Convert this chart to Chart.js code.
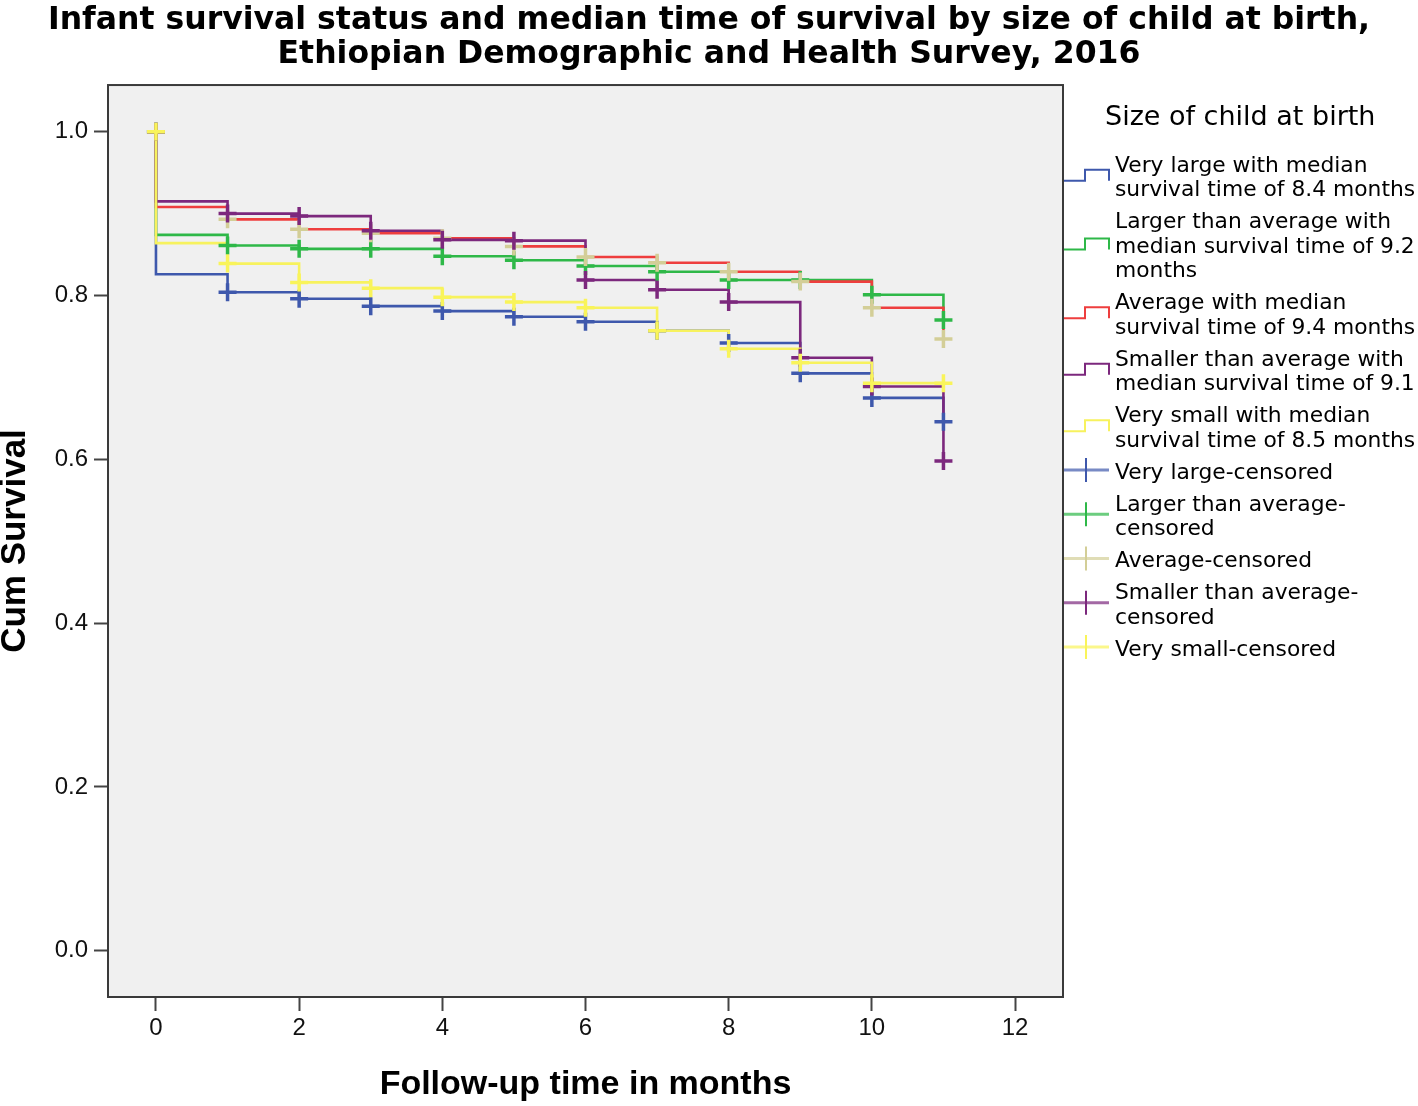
<!DOCTYPE html>
<html><head><meta charset="utf-8">
<script src="https://cdn.jsdelivr.net/npm/chart.js@4.4.1/dist/chart.umd.min.js"></script>
<style>html,body{margin:0;padding:0;background:#fff;}#wrap{width:1418px;height:1106px;position:relative;}</style>
</head><body><div id="wrap"><canvas id="c"></canvas></div>
<script>
// ---- data ----
const months = [0,1,2,3,4,5,6,7,8,9,10,11];
const startSurvival = 1.0;
const veryLarge          = [0.826,0.804,0.796,0.787,0.781,0.774,0.768,0.757,0.742,0.705,0.675,0.646];
const largerThanAverage  = [0.874,0.861,0.857,0.857,0.848,0.843,0.836,0.829,0.819,0.819,0.801,0.770];
const average            = [0.908,0.893,0.881,0.876,0.870,0.860,0.847,0.840,0.829,0.817,0.785,0.747];
const smallerThanAverage = [0.915,0.900,0.897,0.879,0.868,0.867,0.819,0.807,0.792,0.724,0.689,0.598];
const verySmall          = [0.864,0.839,0.816,0.809,0.798,0.792,0.785,0.757,0.735,0.718,0.693,0.693];
const yTicks = [0,0.2,0.4,0.6,0.8,1.0];
const xTicks = [0,2,4,6,8,10,12];
const titleLines = ["Infant survival status and median time of survival by size of child at birth,","Ethiopian Demographic and Health Survey, 2016"];
const xTitle = "Follow-up time in months";
const yTitle = "Cum Survival";
const legendTitle = "Size of child at birth";
const curveLabels = [
  ["Very large with median","survival time of 8.4 months"],
  ["Larger than average with","median survival time of 9.2","months"],
  ["Average with median","survival time of 9.4 months"],
  ["Smaller than average with","median survival time of 9.1"],
  ["Very small with median","survival time of 8.5 months"]
];
const censoredLabels = [
  ["Very large-censored"],
  ["Larger than average-","censored"],
  ["Average-censored"],
  ["Smaller than average-","censored"],
  ["Very small-censored"]
];

// ---- styles ----
const series = [veryLarge, largerThanAverage, average, smallerThanAverage, verySmall];
const lineColors = ['#3E58AC','#2EB848','#EE3E3E','#7C287D','#F7F25E'];
const markColors = ['#3E58AC','#2EB848','#D3CE97','#7C287D','#F9F45A'];

const datasets = [];
series.forEach((s, g) => {
  datasets.push({
    label: curveLabels[g].join(' '),
    data: [{x: months[0], y: startSurvival}].concat(months.map((m, i) => ({x: m, y: s[i]}))),
    borderColor: lineColors[g], borderWidth: 2.6, stepped: 'before',
    pointRadius: 0, fill: false, order: 9 - g
  });
});
series.forEach((s, g) => {
  datasets.push({
    label: censoredLabels[g].join(' '),
    data: months.map((m, i) => ({x: m, y: i === 0 ? startSurvival : s[i]})),
    showLine: false, pointStyle: 'cross', pointRadius: 9, pointHoverRadius: 9,
    pointBorderWidth: 3.5, borderColor: markColors[g], backgroundColor: markColors[g],
    order: 4 - g
  });
});

const areaPlugin = {
  id: 'area',
  beforeDatasetsDraw(chart) {
    const {ctx, chartArea: a} = chart;
    ctx.save(); ctx.fillStyle = '#F0F0F0';
    ctx.fillRect(a.left, a.top, a.right - a.left, a.bottom - a.top);
    ctx.restore();
  },
  afterDraw(chart) {
    const {ctx, chartArea: a} = chart;
    ctx.save(); ctx.strokeStyle = '#3a3a3a'; ctx.lineWidth = 2;
    ctx.strokeRect(a.left, a.top, a.right - a.left, a.bottom - a.top);
    ctx.restore();
  }
};

function stepIcon(ctx, x0, c, color) {
  ctx.save(); ctx.strokeStyle = color; ctx.lineWidth = 2;
  ctx.beginPath();
  ctx.moveTo(x0 + 1, c + 5.5); ctx.lineTo(x0 + 22, c + 5.5); ctx.lineTo(x0 + 22, c - 5.5);
  ctx.lineTo(x0 + 46, c - 5.5); ctx.lineTo(x0 + 46, c + 5.5);
  ctx.stroke(); ctx.restore();
}
function censIcon(ctx, x0, c, color) {
  ctx.save(); ctx.strokeStyle = color;
  ctx.globalAlpha = 0.7; ctx.lineWidth = 3;
  ctx.beginPath(); ctx.moveTo(x0 + 1, c); ctx.lineTo(x0 + 46, c); ctx.stroke();
  ctx.globalAlpha = 1; ctx.lineWidth = 2;
  ctx.beginPath(); ctx.moveTo(x0 + 23, c - 12); ctx.lineTo(x0 + 23, c + 12); ctx.stroke();
  ctx.restore();
}

const legendPlugin = {
  id: 'kmLegend',
  afterDraw(chart) {
    const {ctx, chartArea: a} = chart;
    const x0 = a.right;
    ctx.save();
    ctx.fillStyle = '#000'; ctx.textBaseline = 'middle'; ctx.textAlign = 'left';
    ctx.font = '27px "DejaVu Sans"';
    ctx.fillText(legendTitle, x0 + 42, a.top + 33);
    ctx.font = '21.8px "DejaVu Sans"';
    const entries = curveLabels.map((t, g) => ({t, kind: 'step', color: lineColors[g]}))
      .concat(censoredLabels.map((t, g) => ({t, kind: 'cens', color: markColors[g]})));
    let y = a.top + 81;
    const lh = 24.5, gap = 32;
    entries.forEach(e => {
      e.t.forEach((line, j) => ctx.fillText(line, x0 + 52, y + j * lh));
      const last = y + (e.t.length - 1) * lh;
      const c = (y + last) / 2 - 3;
      if (e.kind === 'step') stepIcon(ctx, x0, c, e.color); else censIcon(ctx, x0, c, e.color);
      y = last + gap;
    });
    ctx.restore();
  }
};

new Chart(document.getElementById('c'), {
  type: 'line',
  data: {datasets},
  options: {
    responsive: true, maintainAspectRatio: false, animation: false,
    layout: {padding: 0},
    plugins: {
      legend: {display: false}, tooltip: {enabled: false},
      title: {display: true, text: titleLines, color: '#000',
        font: {family: '"DejaVu Sans", sans-serif', size: 31.5, weight: 'bold', lineHeight: 1.08},
        padding: {top: 4, bottom: 13}}
    },
    scales: {
      x: {type: 'linear', min: -0.67, max: 12.67,
        afterBuildTicks: s => { s.ticks = xTicks.map(v => ({value: v})); },
        afterFit: s => { s.height = 109; },
        grid: {drawOnChartArea: false, drawTicks: true, tickLength: 14, tickWidth: 2, tickColor: '#444'},
        border: {display: false},
        ticks: {color: '#111', padding: 3, maxRotation: 0, autoSkip: false,
          font: {family: '"Liberation Sans", Arial, sans-serif', size: 24}, callback: v => String(v)},
        title: {display: true, text: xTitle, color: '#000',
          font: {family: '"Liberation Sans", Arial, sans-serif', size: 34, weight: 'bold', lineHeight: 1},
          padding: {top: 0, bottom: 4}}
      },
      y: {type: 'linear', min: -0.0565, max: 1.057,
        afterBuildTicks: s => { s.ticks = yTicks.map(v => ({value: v})); },
        afterFit: s => { s.width = 108; },
        grid: {drawOnChartArea: false, drawTicks: true, tickLength: 14, tickWidth: 2, tickColor: '#444'},
        border: {display: false},
        ticks: {color: '#111', padding: 6, autoSkip: false,
          font: {family: '"Liberation Sans", Arial, sans-serif', size: 24}, callback: v => Number(v).toFixed(1)},
        title: {display: true, text: yTitle, color: '#000',
          font: {family: '"Liberation Sans", Arial, sans-serif', size: 35, weight: 'bold', lineHeight: 0.86},
          padding: {top: 0, bottom: 0}}
      },
      legendSpace: {type: 'linear', position: 'right', display: true,
        afterFit: s => { s.width = 355; },
        grid: {display: false}, border: {display: false}, ticks: {display: false}}
    }
  },
  plugins: [areaPlugin, legendPlugin]
});
</script></body></html>
